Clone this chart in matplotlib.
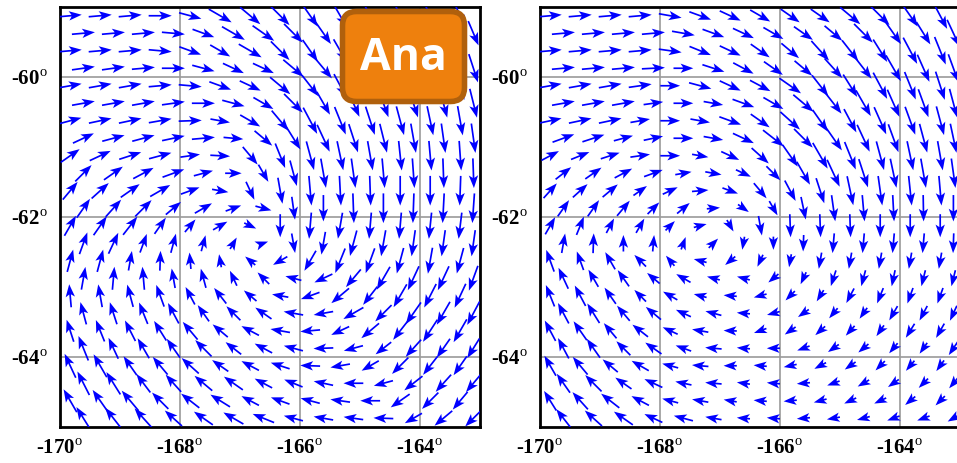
import numpy as np
import matplotlib
matplotlib.use("Agg")
import matplotlib.pyplot as plt
from matplotlib.patches import FancyBboxPatch
from matplotlib.transforms import IdentityTransform

plt.rcParams['font.family'] = ['Liberation Serif', 'DejaVu Serif']
plt.rcParams['mathtext.fontset'] = 'custom'
plt.rcParams['mathtext.rm'] = 'Liberation Serif'

# grid of the wind vectors (deg); odd rows sit a little to the east (scan lines)
lon = [-169.75, -169.25, -168.75, -168.25, -167.75, -167.25, -166.75,
       -166.25, -165.75, -165.25, -164.75, -164.25, -163.75, -163.25]
lat = [-59.125, -59.375, -59.625, -59.875, -60.125, -60.375, -60.625, -60.875,
       -61.125, -61.375, -61.625, -61.875, -62.125, -62.375, -62.625, -62.875,
       -63.125, -63.375, -63.625, -63.875, -64.125, -64.375, -64.625, -64.875]
row_shift = [-0.08, 0.14]

xticks = [-170, -168, -166, -164]
yticks = [-60, -62, -64]

# direction of each arrow as drawn (deg, counter-clockwise from east), analysis panel
ana_dir = [
    [5, 5, 5, 0, -15, -30, -40, -45, -55, -60, -62, -65, -65, -65],
    [5, 5, 5, -5, -20, -30, -35, -45, -55, -60, -62, -65, -65, -67],
    [5, 5, 5, -5, -20, -30, -30, -45, -55, -60, -63, -66, -68, -70],
    [8, 8, 5, 0, -15, -25, -25, -40, -50, -60, -65, -68, -70, -72],
    [10, 10, 10, 5, -5, -20, -25, -40, -52, -62, -66, -70, -72, -74],
    [10, 10, 10, 8, 0, -15, -30, -45, -60, -66, -70, -72, -75, -76],
    [15, 12, 12, 10, 2, -10, -30, -50, -62, -68, -72, -75, -78, -80],
    [25, 15, 15, 12, 5, -5, -40, -58, -65, -72, -76, -80, -82, -82],
    [35, 25, 18, 15, 8, -3, -50, -68, -75, -78, -80, -84, -85, -86],
    [45, 35, 28, 20, 15, 0, -60, -75, -80, -82, -85, -86, -88, -88],
    [50, 42, 35, 30, 20, -10, -65, -80, -85, -87, -88, -90, -90, -92],
    [55, 48, 45, 40, 30, 20, -15, -82, -90, -88, -90, -92, -93, -94],
    [60, 55, 52, 55, 50, 30, -25, -90, -95, -100, -95, -95, -96, -97],
    [70, 65, 70, 75, 75, 60, 20, -80, -100, -105, -100, -98, -98, -98],
    [75, 75, 80, 88, 95, 100, 140, -150, -120, -112, -110, -105, -100, -105],
    [80, 85, 95, 100, 105, 115, 135, 165, -155, -130, -120, -115, -115, -110],
    [95, 100, 105, 110, 118, 128, 140, 170, -160, -140, -128, -120, -117, -115],
    [105, 108, 112, 118, 125, 135, 145, 170, -170, -150, -135, -125, -120, -118],
    [108, 112, 117, 122, 130, 140, 152, 170, -175, -155, -140, -128, -123, -120],
    [112, 115, 120, 125, 135, 142, 152, 165, -178, -165, -142, -132, -125, -122],
    [115, 120, 125, 130, 138, 145, 152, 162, 178, -170, -150, -135, -128, -125],
    [117, 122, 127, 132, 140, 145, 152, 158, 168, 180, -165, -142, -132, -130],
    [120, 125, 130, 135, 142, 148, 152, 160, 165, 172, 180, -145, -135, -130],
    [122, 128, 132, 138, 145, 150, 158, 165, 170, 172, 178, -150, -140, -135],
]

# relative arrow length (one digit per arrow), analysis panel
ana_spd = [
    "77777888888888", "77777888888888", "77777788888888", "77777778888999",
    "77777778889999", "77777778899999", "77777678999999", "77777678999999",
    "77776678999999", "77776568999999", "77776568999999", "77766557899999",
    "77765547888888", "77665436788888", "77665445788888", "77766555678888",
    "77776655677888", "77776666677888", "77777666667788", "87777666666777",
    "88777666666777", "88777766666777", "88877766666777", "88877776666677",
]

# direction of each arrow as drawn, second panel
obs_dir = [
    [5, 5, 5, 5, -10, -20, -25, -30, -35, -35, -40, -45, -55, -62],
    [5, 5, 5, 5, -10, -20, -25, -30, -35, -40, -45, -55, -58, -65],
    [5, 5, 5, 5, -8, -22, -25, -35, -40, -48, -52, -58, -62, -68],
    [5, 5, 5, 3, 0, -18, -28, -35, -40, -48, -52, -60, -66, -70],
    [10, 10, 10, 8, 0, -15, -25, -28, -35, -52, -58, -62, -68, -72],
    [10, 10, 10, 8, 0, -10, -20, -30, -40, -52, -60, -66, -70, -75],
    [12, 12, 12, 10, 0, -10, -20, -35, -42, -55, -62, -66, -70, -75],
    [20, 18, 15, 12, 0, -10, -25, -38, -45, -55, -65, -70, -75, -78],
    [28, 22, 18, 8, 0, -10, -25, -42, -55, -60, -68, -75, -78, -80],
    [38, 35, 28, 20, 10, -10, -25, -45, -60, -65, -72, -78, -80, -82],
    [48, 42, 40, 35, 25, 5, -20, -50, -62, -72, -78, -82, -84, -85],
    [55, 55, 50, 45, 40, 5, -35, -60, -78, -82, -85, -87, -89, -90],
    [60, 68, 62, 60, 45, 15, -60, -80, -88, -88, -88, -90, -90, -90],
    [80, 88, 90, 85, 70, 45, -100, -90, -92, -95, -95, -95, -95, -92],
    [110, 110, 120, 135, 130, 165, -140, -115, -100, -100, -100, -100, -100, -100],
    [115, 120, 125, 140, 150, 165, 165, -140, -115, -108, -105, -102, -104, -104],
    [112, 118, 125, 135, 150, 165, 175, -165, -135, -122, -118, -112, -110, -110],
    [118, 122, 130, 140, 155, 165, 175, -165, -145, -130, -125, -120, -118, -115],
    [118, 125, 130, 142, 155, 170, 178, -160, -145, -138, -132, -125, -122, -120],
    [118, 125, 135, 145, 160, 175, 175, 180, -160, -145, -140, -130, -125, -124],
    [120, 130, 140, 150, 165, 175, 180, 175, -168, -152, -145, -135, -130, -126],
    [125, 135, 145, 155, 168, 175, 172, 175, -175, -160, -150, -145, -135, -130],
    [122, 132, 142, 152, 165, 170, 170, 175, -175, -165, -155, -155, -140, -135],
    [128, 138, 145, 155, 165, 170, 175, 175, -175, -170, -165, -160, -160, -150],
]

obs_spd = [
    "77777777778889", "77777777778889", "77777777788899", "77776777788999",
    "77776777888999", "77766677889999", "77766677888999", "77666678899999",
    "66666567899999", "66665556899999", "66655556789999", "66655445788888",
    "66554446777777", "66554444566666", "76654444455555", "76655444455555",
    "77655444445555", "77665544444555", "77665544444455", "77665544444445",
    "77665544444444", "77665544444444", "77765544444444", "77766544444444",
]

W, H = 957, 463
fig = plt.figure(figsize=(W / 100, H / 100), dpi=100)
fig.patch.set_facecolor('white')

LON, LAT = np.meshgrid(lon, lat)
LON = LON + np.array([row_shift[i % 2] for i in range(len(lat))])[:, None]


def panel(left_px, dirs, spd):
    ax = fig.add_axes([left_px / W, 36 / H, 420 / W, 420 / H])
    a = np.radians(np.array(dirs, dtype=float))
    s = np.array([[int(c) for c in row] for row in spd], dtype=float)
    ax.quiver(LON, LAT, s * np.cos(a), s * np.sin(a), color='#0000ff',
              pivot='middle', units='dots', scale_units='dots', scale=1 / 3.3,
              width=1.7, headwidth=5.5, headlength=7.5, headaxislength=6.0,
              minshaft=0.4, zorder=3)
    ax.set_xlim(-170, -163)
    ax.set_ylim(-65, -59)
    ax.set_xticks(xticks)
    ax.set_xticklabels([f'{t}$^{{\\rm o}}$' for t in xticks])
    ax.set_yticks(yticks)
    ax.set_yticklabels([f'{t}$^{{\\rm o}}$' for t in yticks])
    ax.tick_params(length=0, labelsize=15, pad=9)
    for lb in ax.get_xticklabels() + ax.get_yticklabels():
        lb.set_fontweight('bold')
    ax.grid(True, color='#9a9a9a', linewidth=1.2, zorder=1)
    for sp in ax.spines.values():
        sp.set_linewidth(2)
        sp.set_color('black')
    return ax


panel(60, ana_dir, ana_spd)
panel(540, obs_dir, obs_spd)

# "Ana" badge (pixel coords)
badge = FancyBboxPatch((342.5, H - 101.5), 122, 90,
                       boxstyle='round,pad=0,rounding_size=14',
                       facecolor='#ee800d', edgecolor='#b0600c', linewidth=4,
                       transform=IdentityTransform(), zorder=10)
fig.add_artist(badge)
fig.text(403, H - 58, 'Ana', transform=IdentityTransform(), color='white',
         fontsize=32, fontweight='bold', family=['Open Sans', 'DejaVu Sans'],
         ha='center', va='center', zorder=11)

fig.savefig('out.png', dpi=100)
